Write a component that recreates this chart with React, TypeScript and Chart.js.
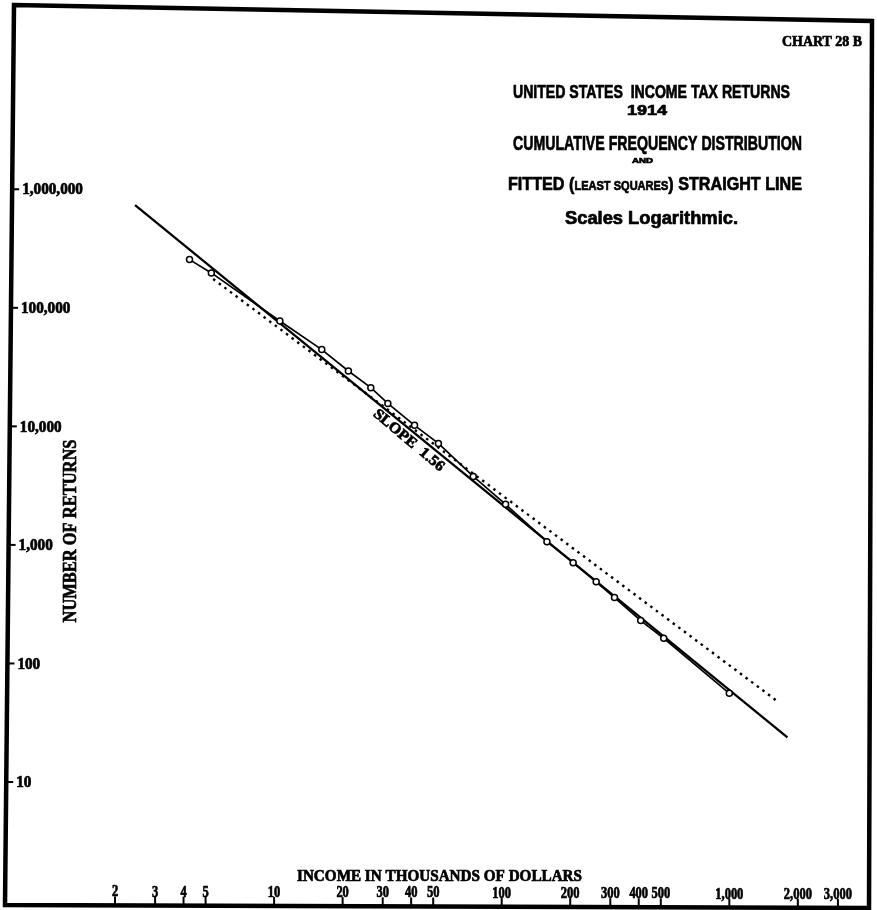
import React, { useEffect, useRef } from 'react';
import { Chart, registerables } from 'chart.js';

Chart.register(...registerables);

// Income in thousands of dollars (x) vs cumulative number of returns (y)
const INCOME = [4.25, 5.3, 10.6, 16.2, 21.2, 26.6, 31.6, 41.4, 52.7, 75, 104, 158, 206, 260, 313, 408, 515, 1000];
const RETURNS = [255000, 197000, 77500, 44400, 29300, 21200, 15600, 10200, 7180, 3780, 2200, 1065, 708, 489, 360, 230, 163, 56];

// Fitted (least squares) straight line, slope 1.56
const FIT_X = [2.45, 1800];
const FIT_Y = [736000, 23.8];

// Dotted comparison line
const DOTTED_X = [5.4, 1650];
const DOTTED_Y = [175000, 47];

const X_TICKS = [2, 3, 4, 5, 10, 20, 30, 40, 50, 100, 200, 300, 400, 500, 1000, 2000, 3000];
const X_TICK_LABELS = ['2', '3', '4', '5', '10', '20', '30', '40', '50', '100', '200', '300', '400', '500', '1,000', '2,000', '3,000'];
const Y_TICKS = [10, 100, 1000, 10000, 100000, 1000000];
const Y_TICK_LABELS = ['10', '100', '1,000', '10,000', '100,000', '1,000,000'];

const X_MIN = 0.6605;
const X_MAX = 4214;
const Y_MIN = 0.926;
const Y_MAX = 3.55e7;

const SLOPE_LABEL = 'SLOPE  1.56';
const SLOPE_AT = { x: 39, y: 7600 };

const SERIF = '"Liberation Serif", "DejaVu Serif", serif';
const SANS = '"Liberation Sans", Arial, sans-serif';
const INK = 0.7;

function inkText(ctx: CanvasRenderingContext2D, text: string, x: number, y: number) {
  ctx.fillText(text, x, y);
  ctx.lineWidth = INK;
  ctx.strokeText(text, x, y);
}

function fitText(ctx: CanvasRenderingContext2D, text: string, x: number, y: number, font: string, width: number, align: CanvasTextAlign = 'center', baseline: CanvasTextBaseline = 'alphabetic') {
  ctx.save();
  ctx.font = font;
  const w = ctx.measureText(text).width;
  const s = width / w;
  ctx.translate(x, y);
  ctx.scale(s, 1);
  ctx.textAlign = align;
  ctx.textBaseline = baseline;
  inkText(ctx, text, 0, 0);
  ctx.restore();
}

function drawRuns(ctx: CanvasRenderingContext2D, runs: { text: string; font: string }[], cx: number, y: number, width: number) {
  ctx.save();
  let total = 0;
  const ws: number[] = [];
  for (const r of runs) {
    ctx.font = r.font;
    const w = ctx.measureText(r.text).width;
    ws.push(w);
    total += w;
  }
  const s = width / total;
  ctx.translate(cx - width / 2, y);
  ctx.scale(s, 1);
  ctx.textAlign = 'left';
  ctx.textBaseline = 'alphabetic';
  let x = 0;
  runs.forEach((r, i) => {
    ctx.font = r.font;
    inkText(ctx, r.text, x, 0);
    x += ws[i];
  });
  ctx.restore();
}

const FRAME = { tl: [14, 5], tr: [872, 21], br: [869, 908], bl: [5, 905] };
const leftX = (y: number) => FRAME.tl[0] + (FRAME.bl[0] - FRAME.tl[0]) * (y - FRAME.tl[1]) / (FRAME.bl[1] - FRAME.tl[1]);
const bottomY = (x: number) => FRAME.bl[1] + (FRAME.br[1] - FRAME.bl[1]) * (x - FRAME.bl[0]) / (FRAME.br[0] - FRAME.bl[0]);

const decorPlugin = {
  id: 'decor',
  beforeDraw(chart: any) {
    const ctx = chart.ctx as CanvasRenderingContext2D;
    ctx.save();
    ctx.fillStyle = '#ffffff';
    ctx.fillRect(0, 0, chart.width, chart.height);
    ctx.restore();
  },
  afterDraw(chart: any) {
    const ctx = chart.ctx as CanvasRenderingContext2D;
    const xs = chart.scales.x;
    const ys = chart.scales.y;
    ctx.save();
    ctx.fillStyle = '#000';
    ctx.strokeStyle = '#000';

    // frame
    ctx.lineWidth = 4.5;
    ctx.lineJoin = 'miter';
    ctx.beginPath();
    ctx.moveTo(FRAME.tl[0], FRAME.tl[1]);
    ctx.lineTo(FRAME.tr[0], FRAME.tr[1]);
    ctx.lineTo(FRAME.br[0], FRAME.br[1]);
    ctx.lineTo(FRAME.bl[0], FRAME.bl[1]);
    ctx.closePath();
    ctx.stroke();

    // y ticks
    Y_TICKS.forEach((v, i) => {
      const py = ys.getPixelForValue(v);
      const ax = leftX(py);
      ctx.lineWidth = 2;
      ctx.beginPath();
      ctx.moveTo(ax, py);
      ctx.lineTo(ax + 7, py);
      ctx.stroke();
      ctx.save();
      ctx.font = `bold 16px ${SERIF}`;
      ctx.textAlign = 'left';
      ctx.textBaseline = 'middle';
      ctx.translate(ax + 10, py + 1);
      ctx.scale(0.95, 1);
      inkText(ctx, Y_TICK_LABELS[i], 0, 0);
      ctx.restore();
    });

    // x ticks
    X_TICKS.forEach((v, i) => {
      const px = xs.getPixelForValue(v);
      const by = bottomY(px);
      ctx.lineWidth = 2;
      ctx.beginPath();
      ctx.moveTo(px, by);
      ctx.lineTo(px, by - 9);
      ctx.stroke();
      ctx.save();
      ctx.font = `bold 16px ${SERIF}`;
      ctx.textAlign = 'center';
      ctx.textBaseline = 'alphabetic';
      ctx.translate(px, by - 9);
      ctx.scale(0.78, 1);
      inkText(ctx, X_TICK_LABELS[i], 0, 0);
      ctx.restore();
    });

    // axis titles
    fitText(ctx, 'INCOME IN THOUSANDS OF DOLLARS', 439.5, 881, `bold 16px ${SERIF}`, 285);
    ctx.save();
    ctx.translate(71, 531);
    ctx.rotate(-Math.PI / 2);
    fitText(ctx, 'NUMBER OF RETURNS', 0, 0, `bold 19px ${SERIF}`, 183, 'center', 'middle');
    ctx.restore();

    // slope label
    const sx = xs.getPixelForValue(SLOPE_AT.x);
    const sy = ys.getPixelForValue(SLOPE_AT.y);
    ctx.save();
    ctx.translate(sx, sy);
    ctx.rotate(40 * Math.PI / 180);
    fitText(ctx, SLOPE_LABEL, 0, 0, `bold 15px ${SERIF}`, 88, 'center', 'middle');
    ctx.restore();

    // header texts
    fitText(ctx, 'CHART 28 B', 822, 46, `bold 15px ${SERIF}`, 80);
    fitText(ctx, 'UNITED STATES  INCOME TAX RETURNS', 651.5, 98, `bold 19px ${SANS}`, 277);
    fitText(ctx, '1914', 647, 115, `bold 14px ${SANS}`, 40);
    fitText(ctx, 'CUMULATIVE FREQUENCY DISTRIBUTION', 657.5, 150, `bold 20px ${SANS}`, 289);
    fitText(ctx, 'AND', 642.5, 163, `bold 8px ${SANS}`, 21);
    drawRuns(ctx, [
      { text: 'FITTED (', font: `bold 19px ${SANS}` },
      { text: 'LEAST SQUARES', font: `bold 13px ${SANS}` },
      { text: ') STRAIGHT LINE', font: `bold 19px ${SANS}` },
    ], 655, 190, 294);
    fitText(ctx, 'Scales Logarithmic.', 651.5, 224, `bold 18px ${SANS}`, 173);

    ctx.restore();
  },
};

export default function App() {
  const ref = useRef<HTMLCanvasElement | null>(null);
  useEffect(() => {
    if (!ref.current) return;
    const chart = new Chart(ref.current, {
      type: 'scatter',
      data: {
        datasets: [
          {
            label: 'Cumulative frequency',
            data: INCOME.map((x, i) => ({ x, y: RETURNS[i] })),
            showLine: true,
            borderColor: '#000',
            borderWidth: 1.7,
            pointRadius: 3,
            pointBorderWidth: 1.5,
            pointBackgroundColor: '#fff',
            pointBorderColor: '#000',
          },
          {
            label: 'Fitted line',
            data: FIT_X.map((x, i) => ({ x, y: FIT_Y[i] })),
            showLine: true,
            borderColor: '#000',
            borderWidth: 2.3,
            pointRadius: 0,
          },
          {
            label: 'Dotted line',
            data: DOTTED_X.map((x, i) => ({ x, y: DOTTED_Y[i] })),
            showLine: true,
            borderColor: '#000',
            borderWidth: 2.4,
            borderDash: [2.5, 4.5],
            pointRadius: 0,
          },
        ],
      },
      options: {
        animation: false,
        responsive: false,
        devicePixelRatio: 1,
        layout: { padding: 0 },
        plugins: { legend: { display: false }, tooltip: { enabled: false } },
        scales: {
          x: { type: 'logarithmic', min: X_MIN, max: X_MAX, display: false, bounds: 'data' },
          y: { type: 'logarithmic', min: Y_MIN, max: Y_MAX, display: false, bounds: 'data' },
        },
      },
      plugins: [decorPlugin],
    });
    return () => chart.destroy();
  }, []);
  return (
    <div style={{ position: 'fixed', left: 0, top: 0, width: 877, height: 910, background: '#fff' }}>
      <canvas ref={ref} width={877} height={910} style={{ display: 'block' }} />
    </div>
  );
}
